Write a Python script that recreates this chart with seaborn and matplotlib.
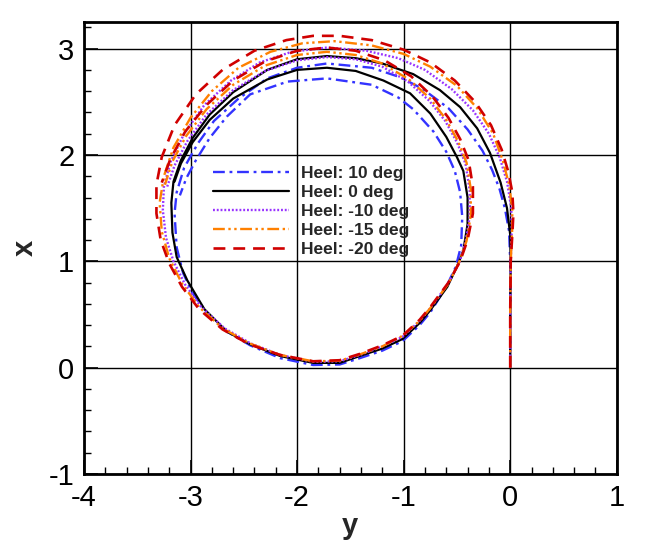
import matplotlib
matplotlib.use("Agg")
import matplotlib.pyplot as plt
import seaborn as sns
import pandas as pd
from matplotlib.ticker import MultipleLocator

sns.set_theme(style="ticks")
plt.rcParams["font.family"] = ["Liberation Sans", "DejaVu Sans"]
plt.rcParams["axes.unicode_minus"] = False

LABELS = ["Heel: 10 deg", "Heel: 0 deg", "Heel: -10 deg", "Heel: -15 deg", "Heel: -20 deg"]

# trajectories: lateral position y (horizontal axis) and advance x (vertical axis)
Y_H10 = [0.0, 0.0, 0.0, -0.01, -0.05, -0.10, -0.17, -0.26, -0.40, -0.58, -0.82, -1.03, -1.30, -1.72,
         -2.00, -2.28, -2.55, -2.78, -2.93, -3.06, -3.13, -3.15, -3.13, -3.07, -2.98, -2.85, -2.66,
         -2.44, -2.16, -1.85, -1.60, -1.41, -1.20, -1.01, -0.85, -0.75, -0.60, -0.51, -0.46, -0.45,
         -0.47, -0.52, -0.60, -0.72, -0.91, -1.05, -1.30, -1.72, -2.09, -2.44, -2.66, -2.82, -2.95,
         -3.04, -3.10]
X_H10 = [0.0, 0.5, 1.0, 1.28, 1.50, 1.68, 1.86, 2.04, 2.24, 2.44, 2.62, 2.73, 2.82, 2.86,
         2.82, 2.72, 2.53, 2.32, 2.11, 1.88, 1.65, 1.45, 1.13, 0.89, 0.70, 0.52, 0.34,
         0.21, 0.09, 0.025, 0.03, 0.09, 0.16, 0.25, 0.40, 0.52, 0.76, 0.95, 1.15, 1.42,
         1.65, 1.85, 2.03, 2.22, 2.43, 2.54, 2.66, 2.72, 2.69, 2.57, 2.36, 2.16, 1.95,
         1.78, 1.62]

Y_H0 = [0.0, 0.0, 0.005, 0.0, -0.03, -0.09, -0.19, -0.31, -0.47, -0.66, -0.91, -1.20, -1.45, -1.72,
        -2.00, -2.28, -2.60, -2.82, -2.98, -3.09, -3.16, -3.18, -3.17, -3.13, -3.03, -2.87, -2.66,
        -2.44, -2.16, -1.85, -1.60, -1.41, -1.20, -1.01, -0.85, -0.75, -0.59, -0.50, -0.44, -0.40,
        -0.40, -0.44, -0.50, -0.60, -0.75, -0.94, -1.19, -1.45, -1.72, -2.00, -2.28, -2.60, -2.82,
        -2.98, -3.09, -3.15]
X_H0 = [0.0, 0.5, 1.0, 1.25, 1.50, 1.74, 2.02, 2.25, 2.45, 2.61, 2.76, 2.86, 2.91, 2.93,
        2.90, 2.80, 2.59, 2.38, 2.16, 1.95, 1.75, 1.55, 1.27, 1.04, 0.82, 0.55, 0.34,
        0.22, 0.11, 0.045, 0.045, 0.11, 0.18, 0.27, 0.42, 0.54, 0.76, 0.95, 1.10, 1.35,
        1.60, 1.85, 1.98, 2.17, 2.39, 2.58, 2.70, 2.79, 2.82, 2.80, 2.71, 2.53, 2.33,
        2.12, 1.92, 1.75]

Y_HM10 = [0.0, 0.0, 0.005, 0.015, 0.01, -0.03, -0.10, -0.20, -0.35, -0.55, -0.80, -1.05, -1.35, -1.72,
          -2.05, -2.35, -2.62, -2.87, -3.06, -3.19, -3.25, -3.26, -3.23, -3.16, -3.05, -2.90, -2.68,
          -2.44, -2.16, -1.85, -1.60, -1.41, -1.20, -1.01, -0.85, -0.75, -0.59, -0.48, -0.42, -0.38,
          -0.38, -0.42, -0.50, -0.61, -0.76, -0.96, -1.20, -1.45, -1.72, -2.00, -2.30, -2.60, -2.85,
          -3.03, -3.15, -3.22]
X_HM10 = [0.0, 0.5, 1.0, 1.30, 1.50, 1.75, 1.98, 2.20, 2.42, 2.62, 2.80, 2.91, 2.98, 3.01,
          2.97, 2.87, 2.70, 2.47, 2.20, 1.93, 1.70, 1.48, 1.22, 1.00, 0.78, 0.57, 0.37,
          0.23, 0.12, 0.055, 0.06, 0.12, 0.20, 0.29, 0.44, 0.56, 0.78, 0.98, 1.18, 1.42,
          1.67, 1.92, 2.12, 2.32, 2.51, 2.69, 2.83, 2.90, 2.92, 2.89, 2.79, 2.61, 2.38,
          2.13, 1.90, 1.70]

Y_HM15 = [0.0, 0.0, 0.005, 0.018, 0.02, -0.01, -0.07, -0.16, -0.31, -0.50, -0.75, -1.00, -1.30, -1.65,
          -1.95, -2.25, -2.55, -2.80, -3.00, -3.16, -3.25, -3.29, -3.27, -3.20, -3.08, -2.92, -2.70,
          -2.45, -2.16, -1.85, -1.60, -1.41, -1.20, -1.01, -0.85, -0.75, -0.58, -0.48, -0.41, -0.37,
          -0.37, -0.41, -0.49, -0.60, -0.75, -0.95, -1.20, -1.45, -1.72, -2.00, -2.30, -2.60, -2.85,
          -3.04, -3.17, -3.24]
X_HM15 = [0.0, 0.5, 1.0, 1.28, 1.48, 1.72, 1.95, 2.20, 2.44, 2.65, 2.83, 2.95, 3.03, 3.07,
          3.05, 2.97, 2.82, 2.60, 2.35, 2.07, 1.80, 1.55, 1.28, 1.03, 0.79, 0.57, 0.37,
          0.23, 0.12, 0.06, 0.065, 0.125, 0.20, 0.30, 0.44, 0.56, 0.79, 0.99, 1.19, 1.43,
          1.68, 1.93, 2.13, 2.33, 2.53, 2.71, 2.86, 2.94, 2.97, 2.94, 2.84, 2.66, 2.43,
          2.18, 1.94, 1.72]

Y_HM20 = [0.0, 0.0, 0.005, 0.02, 0.03, 0.02, -0.02, -0.08, -0.18, -0.33, -0.52, -0.75, -1.00, -1.30,
          -1.60, -1.85, -2.10, -2.40, -2.70, -2.95, -3.15, -3.27, -3.32, -3.32, -3.28, -3.20, -3.08,
          -2.92, -2.70, -2.45, -2.16, -1.85, -1.60, -1.41, -1.20, -1.01, -0.85, -0.75, -0.58, -0.47,
          -0.40, -0.35, -0.35, -0.39, -0.47, -0.58, -0.73, -0.93, -1.18, -1.45, -1.72, -2.00, -2.30,
          -2.60, -2.85, -3.05, -3.19, -3.27]
X_HM20 = [0.0, 0.5, 1.0, 1.25, 1.45, 1.65, 1.85, 2.05, 2.28, 2.50, 2.70, 2.87, 2.99, 3.08,
          3.12, 3.12, 3.08, 2.98, 2.80, 2.57, 2.28, 1.98, 1.72, 1.45, 1.20, 0.98, 0.76,
          0.55, 0.36, 0.22, 0.12, 0.06, 0.07, 0.13, 0.21, 0.30, 0.45, 0.57, 0.80, 1.00,
          1.20, 1.45, 1.70, 1.95, 2.15, 2.35, 2.55, 2.74, 2.89, 2.98, 3.01, 2.98, 2.88,
          2.70, 2.47, 2.22, 1.96, 1.74]

SERIES_Y = [Y_H10, Y_H0, Y_HM10, Y_HM15, Y_HM20]
SERIES_X = [X_H10, X_H0, X_HM10, X_HM15, X_HM20]

COLORS = ["#3333ff", "#000000", "#9933ff", "#ff8000", "#d00000"]
STYLES = [(0, (5, 2, 1.2, 2)), "-", (0, (0.8, 0.8)), (0, (5, 1.5, 1, 1.5, 1, 1.5)), (0, (4.5, 3))]
WIDTHS = [1.7, 1.6, 1.7, 1.7, 1.9]

fig = plt.figure(figsize=(6.45, 5.41), dpi=100)
ax = fig.add_axes([0.1302, 0.1238, 0.826, 0.8355])

for lab, ys, xs, c, ls, lw in zip(LABELS, SERIES_Y, SERIES_X, COLORS, STYLES, WIDTHS):
    df = pd.DataFrame({"y": ys, "x": xs})
    sns.lineplot(data=df, x="y", y="x", sort=False, estimator=None, ax=ax,
                 color=c, linestyle=ls, linewidth=lw, label=lab)

ax.set_xlim(-4, 1)
ax.set_ylim(-1, 3.25)
ax.xaxis.set_major_locator(MultipleLocator(1))
ax.yaxis.set_major_locator(MultipleLocator(1))
ax.xaxis.set_minor_locator(MultipleLocator(0.2))
ax.yaxis.set_minor_locator(MultipleLocator(0.2))
ax.grid(True, which="major", color="black", linewidth=1.0)
ax.set_axisbelow(True)
ax.tick_params(which="both", direction="in", top=False, right=False, colors="black")
ax.tick_params(which="major", length=10, width=1.2, labelsize=21, pad=7)
ax.tick_params(which="minor", length=5, width=1.0)
for sp in ax.spines.values():
    sp.set_linewidth(2)
    sp.set_color("black")

ax.set_xlabel("y", fontsize=21, fontweight="bold", labelpad=0)
ax.set_ylabel("x", fontsize=21, fontweight="bold")
ax.yaxis.set_label_coords(-0.085, 0.5)

leg = ax.legend(loc="upper left", bbox_to_anchor=(0.229, 0.697), frameon=False,
                borderaxespad=0, handlelength=4.4, handletextpad=0.65, labelspacing=0.22,
                prop={"size": 12.5, "weight": "bold"})

fig.savefig("out.png", dpi=100)
